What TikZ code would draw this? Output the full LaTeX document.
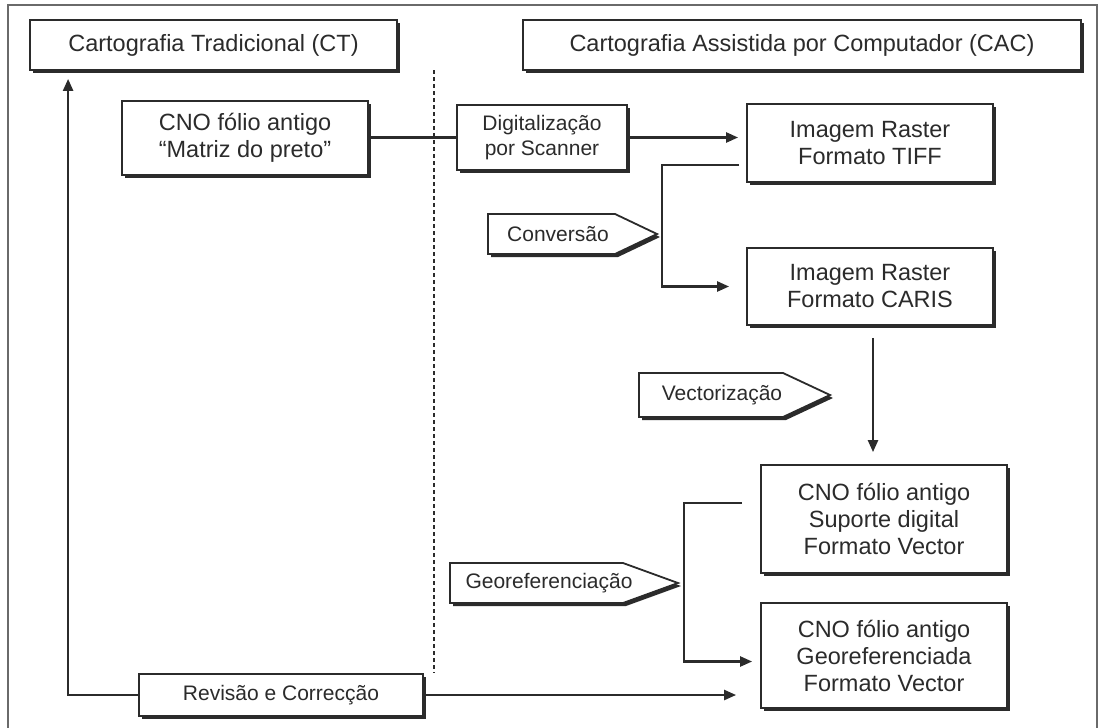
\documentclass[tikz,border=0pt]{standalone}
\usepackage{fontspec}
\setmainfont{Liberation Sans}
\usetikzlibrary{arrows.meta,shadows}
\definecolor{ink}{HTML}{2B2B2B}
\definecolor{framegray}{HTML}{6A6A6A}
\begin{document}
\begin{tikzpicture}[x=1pt,y=-1pt,
  shade3/.style={drop shadow={shadow xshift=3pt, shadow yshift=-3pt, fill=ink, opacity=1}},
  box/.style={draw=ink, line width=1.8pt, fill=white, inner sep=0pt, align=center,
    text=ink, font=\fontsize{23.5}{27}\selectfont, shade3},
  tagshape/.style={draw=ink, line width=1.8pt, fill=white, line join=miter, shade3},
  tagtext/.style={text=ink, font=\fontsize{21}{25}\selectfont, inner sep=0pt},
  conn/.style={draw=ink, line width=2.4pt},
  arr/.style={conn, -{Triangle[length=12pt,width=10pt]}},
]
\useasboundingbox (0,0) rectangle (1106,728);

% outer frame (open at the bottom)
\draw[framegray, line width=2pt] (8,728) -- (8,5) -- (1097,5) -- (1097,728);

% divider between the two halves
\draw[ink, line width=2pt, dash pattern=on 4pt off 3pt] (434,70) -- (434,673);

% headers
\node[box, minimum width=367pt, minimum height=50pt] (ct) at (213.5,45)
  {Cartografia Tradicional (CT)};
\node[box, minimum width=558pt, minimum height=50pt] (cac) at (802,45)
  {Cartografia Assistida por Computador (CAC)};

% process boxes
\node[box, minimum width=246pt, minimum height=74pt] (cno1) at (245,138)
  {CNO fólio antigo\\“Matriz do preto”};
\node[box, minimum width=170pt, minimum height=65pt, font=\fontsize{21}{25}\selectfont] (dig) at (542,137.5)
  {Digitalização\\por Scanner};
\node[box, minimum width=246pt, minimum height=78pt] (tiff) at (870,143)
  {Imagem Raster\\Formato TIFF};
\node[box, minimum width=246pt, minimum height=77pt] (caris) at (870,286.5)
  {Imagem Raster\\Formato CARIS};
\node[box, minimum width=246pt, minimum height=108pt] (sup) at (884,519)
  {CNO fólio antigo\\Suporte digital\\Formato Vector};
\node[box, minimum width=246pt, minimum height=105pt] (geo) at (884,655.5)
  {CNO fólio antigo\\Georeferenciada\\Formato Vector};
\node[box, minimum width=284pt, minimum height=42pt, font=\fontsize{21}{25}\selectfont] (rev) at (281,695)
  {Revisão e Correcção};

% operation tags
\filldraw[tagshape] (488,214) -- (615,214) -- (657,234) -- (615,254) -- (488,254) -- cycle;
\node[tagtext] (conv) at (558,234) {Conversão};
\filldraw[tagshape] (639,373) -- (783,373) -- (830,395) -- (783,417) -- (639,417) -- cycle;
\node[tagtext] (vect) at (722,395) {Vectorização};
\filldraw[tagshape] (450,563) -- (623,563) -- (678,583) -- (623,603) -- (450,603) -- cycle;
\node[tagtext] (georef) at (549,583) {Georeferenciação};

% connectors
\draw[conn] (cno1.east |- dig.west) -- (dig.west);
\draw[arr, shorten >=8pt] (dig.east) -- (dig.east -| tiff.west);
\draw[arr, shorten <=7pt, shorten >=17pt] ([yshift=-22pt]tiff.west) -- ++(-84,0) |- (caris.west);
\draw[arr, shorten <=12pt, shorten >=12pt] ([xshift=3pt]caris.south) -- ([xshift=3pt]caris.south |- sup.north);
\draw[arr, shorten <=18pt, shorten >=8pt] ([yshift=16pt]sup.west) -- ++(-76,0) |- ([yshift=-6pt]geo.west);
\draw[arr, shorten >=8pt] (rev.west) -| ([xshift=39pt]ct.south west);
\draw[arr, shorten >=24pt] (rev.east) -- (rev.east -| geo.west);
\end{tikzpicture}
\end{document}
